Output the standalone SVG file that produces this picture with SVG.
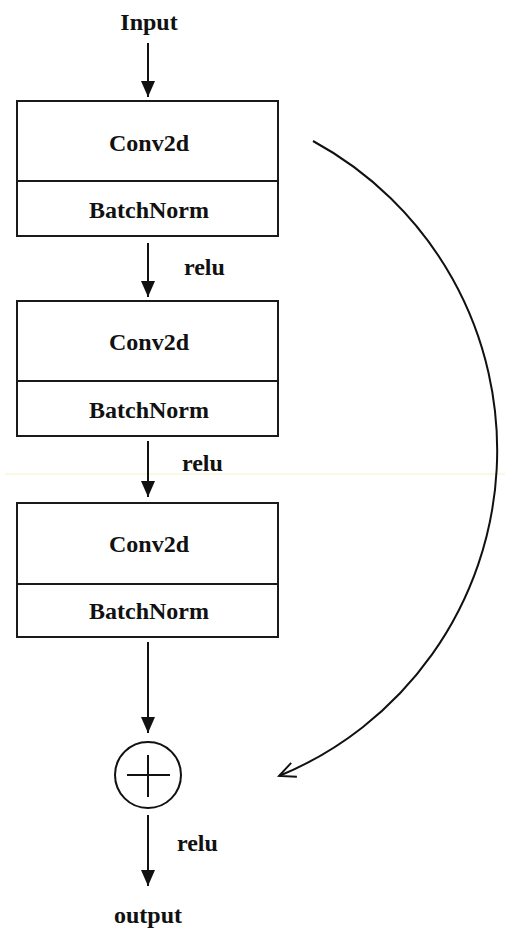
<svg xmlns="http://www.w3.org/2000/svg" width="510" height="944" viewBox="0 0 510 944">
<style>
.box{fill:#fff;stroke:#1a1a1a;stroke-width:2}
.t{font-family:"Liberation Serif","Times New Roman",serif;font-weight:bold;font-size:24px;fill:#111;text-anchor:middle}
.l{font-family:"Liberation Serif","Times New Roman",serif;font-weight:bold;font-size:24px;fill:#111}
.ar{stroke:#111;stroke-width:2;fill:none}
</style>
<defs>
<marker id="tri" markerUnits="userSpaceOnUse" markerWidth="16" markerHeight="22" refX="16" refY="8" orient="auto" viewBox="0 0 16 16">
<path d="M0,1 L16,8 L0,15 Z" fill="#111"/>
</marker>
<marker id="open" markerUnits="userSpaceOnUse" markerWidth="20" markerHeight="20" refX="14" refY="7" orient="auto" viewBox="0 0 16 14">
<path d="M1,1 L14,7 L1,13" fill="none" stroke="#111" stroke-width="1.5"/>
</marker>
</defs>
<line x1="5" y1="474" x2="505" y2="474" stroke="#f6f2c8" stroke-width="1"/>
<g id="input"><text class="t" x="149" y="30">Input</text></g>
<g id="block1">
<rect class="box" x="17" y="101" width="261" height="135"/>
<line class="box" x1="17" y1="181" x2="278" y2="181"/>
<text class="t" x="149" y="151">Conv2d</text>
<text class="t" x="149" y="218">BatchNorm</text>
</g>
<g id="block2">
<rect class="box" x="17" y="301" width="261" height="135"/>
<line class="box" x1="17" y1="381" x2="278" y2="381"/>
<text class="t" x="149" y="350">Conv2d</text>
<text class="t" x="149" y="418">BatchNorm</text>
</g>
<g id="block3">
<rect class="box" x="17" y="503" width="261" height="134"/>
<line class="box" x1="17" y1="584" x2="278" y2="584"/>
<text class="t" x="149" y="552">Conv2d</text>
<text class="t" x="149" y="619">BatchNorm</text>
</g>
<g id="add">
<circle cx="148" cy="775" r="33" fill="#fff" stroke="#111" stroke-width="2"/>
<line x1="127" y1="775" x2="170" y2="775" stroke="#111" stroke-width="2"/>
<line x1="148" y1="755" x2="148" y2="797" stroke="#111" stroke-width="2"/>
</g>
<g id="output"><text class="t" x="148" y="923">output</text></g>
<g id="connectors">
<line class="ar" x1="148" y1="43" x2="148" y2="97" marker-end="url(#tri)"/>
<line class="ar" x1="148" y1="243" x2="148" y2="297" marker-end="url(#tri)"/>
<line class="ar" x1="148" y1="441" x2="148" y2="497" marker-end="url(#tri)"/>
<line class="ar" x1="148" y1="642" x2="148" y2="733" marker-end="url(#tri)"/>
<line class="ar" x1="148" y1="815" x2="148" y2="886" marker-end="url(#tri)"/>
<path class="ar" d="M313,141 A352,352 0 0 1 279,776" stroke-width="1.8" marker-end="url(#open)"/>
<text class="l" x="184" y="275">relu</text>
<text class="l" x="182" y="471">relu</text>
<text class="l" x="177" y="851">relu</text>
</g>
</svg>
